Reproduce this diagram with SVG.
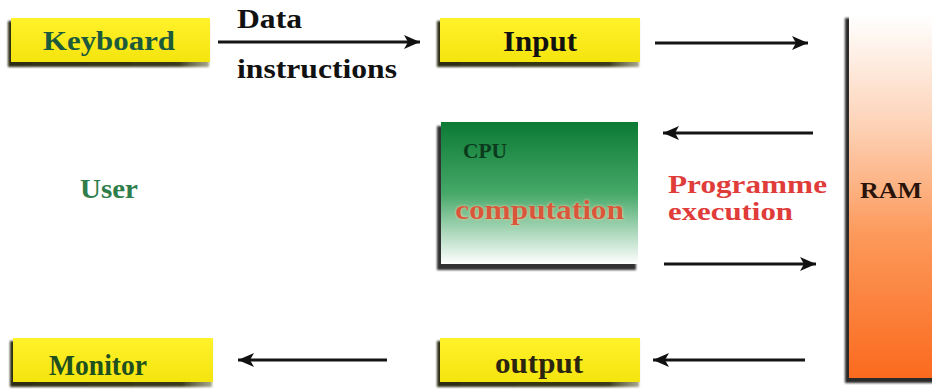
<svg xmlns="http://www.w3.org/2000/svg" width="932" height="392" viewBox="0 0 932 392">
  <defs>
    <linearGradient id="yellowFill" x1="0" y1="0" x2="0" y2="1">
      <stop offset="0" stop-color="#fff22a"/>
      <stop offset="1" stop-color="#f4e40e"/>
    </linearGradient>
    <linearGradient id="cpuFill" x1="0" y1="0" x2="0" y2="1">
      <stop offset="0" stop-color="#0b7a34"/>
      <stop offset="0.5" stop-color="#45a868"/>
      <stop offset="1" stop-color="#ffffff"/>
    </linearGradient>
    <linearGradient id="ramFill" x1="0" y1="0" x2="0" y2="1">
      <stop offset="0" stop-color="#ffffff"/>
      <stop offset="0.3" stop-color="#fdd3b8"/>
      <stop offset="0.6" stop-color="#fc9a5c"/>
      <stop offset="1" stop-color="#fb6a1e"/>
    </linearGradient>
    <linearGradient id="shadowFade" x1="0" y1="0" x2="1" y2="0">
      <stop offset="0" stop-color="#2e2e14"/>
      <stop offset="0.85" stop-color="#3a3a1c"/>
      <stop offset="1" stop-color="#6a6a40" stop-opacity="0.6"/>
    </linearGradient>
    <filter id="soft" x="-5%" y="-5%" width="110%" height="115%">
      <feGaussianBlur stdDeviation="1"/>
    </filter>
    <filter id="glow" x="-5%" y="-20%" width="110%" height="140%">
      <feGaussianBlur in="SourceAlpha" stdDeviation="1.5" result="b"/>
      <feFlood flood-color="#ffd0a0" flood-opacity="0.9"/>
      <feComposite in2="b" operator="in" result="g"/>
      <feMerge><feMergeNode in="g"/><feMergeNode in="SourceGraphic"/></feMerge>
    </filter>
    <marker id="head" markerUnits="userSpaceOnUse" markerWidth="18" markerHeight="14" refX="16" refY="7" orient="auto">
      <path d="M0,0 L16,7 L0,14 L4,7 Z" fill="#111"/>
    </marker>
  </defs>
  <style>
    text { font-family: 'Liberation Serif', 'Times New Roman', Times, serif; font-weight: bold; }
    .box { fill: url(#yellowFill); }
    .shadow { fill: url(#shadowFade); filter: url(#soft); }
    .arrow { stroke: #151515; stroke-width: 3; fill: none; marker-end: url(#head); }
  </style>

  <rect width="932" height="392" fill="#ffffff"/>

  <!-- input device -->
  <g id="keyboard">
    <rect class="shadow" x="8" y="21" width="201" height="46"/>
    <rect class="box" x="11" y="18" width="199" height="44"/>
    <text x="43" y="50" font-size="28" fill="#1d5a3c" textLength="132" lengthAdjust="spacingAndGlyphs">Keyboard</text>
  </g>

  <g id="input">
    <rect class="shadow" x="437" y="21" width="202" height="46"/>
    <rect class="box" x="440" y="18" width="200" height="44"/>
    <text x="503" y="51" font-size="29" fill="#111" textLength="74" lengthAdjust="spacingAndGlyphs">Input</text>
  </g>

  <g id="cpu">
    <rect x="437" y="126" width="199" height="144" fill="#333" filter="url(#soft)"/>
    <rect x="441" y="122" width="197" height="142" fill="url(#cpuFill)"/>
    <text x="463" y="158" font-size="21" fill="#0c3a1c" textLength="44" lengthAdjust="spacingAndGlyphs">CPU</text>
    <text x="455" y="219" font-size="28" fill="#d9563a" filter="url(#glow)" textLength="169" lengthAdjust="spacingAndGlyphs">computation</text>
  </g>

  <g id="ram">
    <rect x="845" y="18" width="92" height="365" fill="#2a2a2a" filter="url(#soft)"/>
    <rect x="849" y="15" width="90" height="363" fill="url(#ramFill)"/>
    <text x="860" y="198" font-size="23" fill="#2a140a" textLength="62" lengthAdjust="spacingAndGlyphs">RAM</text>
  </g>

  <g id="output">
    <rect class="shadow" x="437" y="341" width="202" height="46"/>
    <rect class="box" x="440" y="338" width="200" height="44"/>
    <text x="495" y="373" font-size="29" fill="#2a2410" textLength="88" lengthAdjust="spacingAndGlyphs">output</text>
  </g>

  <g id="monitor">
    <rect class="shadow" x="10" y="341" width="202" height="46"/>
    <rect class="box" x="13" y="338" width="200" height="44"/>
    <text x="49" y="375" font-size="30" fill="#1e4f1e" textLength="98" lengthAdjust="spacingAndGlyphs">Monitor</text>
  </g>

  <g id="user">
    <text x="80" y="198" font-size="28" fill="#2e7d4a" textLength="58" lengthAdjust="spacingAndGlyphs">User</text>
  </g>

  <!-- data flow -->
  <g id="connectors">
    <line class="arrow" x1="218" y1="42" x2="420" y2="42"/>
    <line class="arrow" x1="655" y1="43" x2="808" y2="43"/>
    <line class="arrow" x1="813" y1="133" x2="663" y2="133"/>
    <line class="arrow" x1="664" y1="264" x2="816" y2="264"/>
    <line class="arrow" x1="805" y1="360" x2="653" y2="360"/>
    <line class="arrow" x1="387" y1="360" x2="238" y2="360"/>
    <text x="237" y="28" font-size="27" fill="#111" textLength="65" lengthAdjust="spacingAndGlyphs">Data</text>
    <text x="237" y="78" font-size="27" fill="#111" textLength="160" lengthAdjust="spacingAndGlyphs">instructions</text>
    <text x="668" y="193" font-size="25" fill="#e03c3a" textLength="159" lengthAdjust="spacingAndGlyphs">Programme</text>
    <text x="668" y="220" font-size="25" fill="#e03c3a" textLength="125" lengthAdjust="spacingAndGlyphs">execution</text>
  </g>
</svg>
